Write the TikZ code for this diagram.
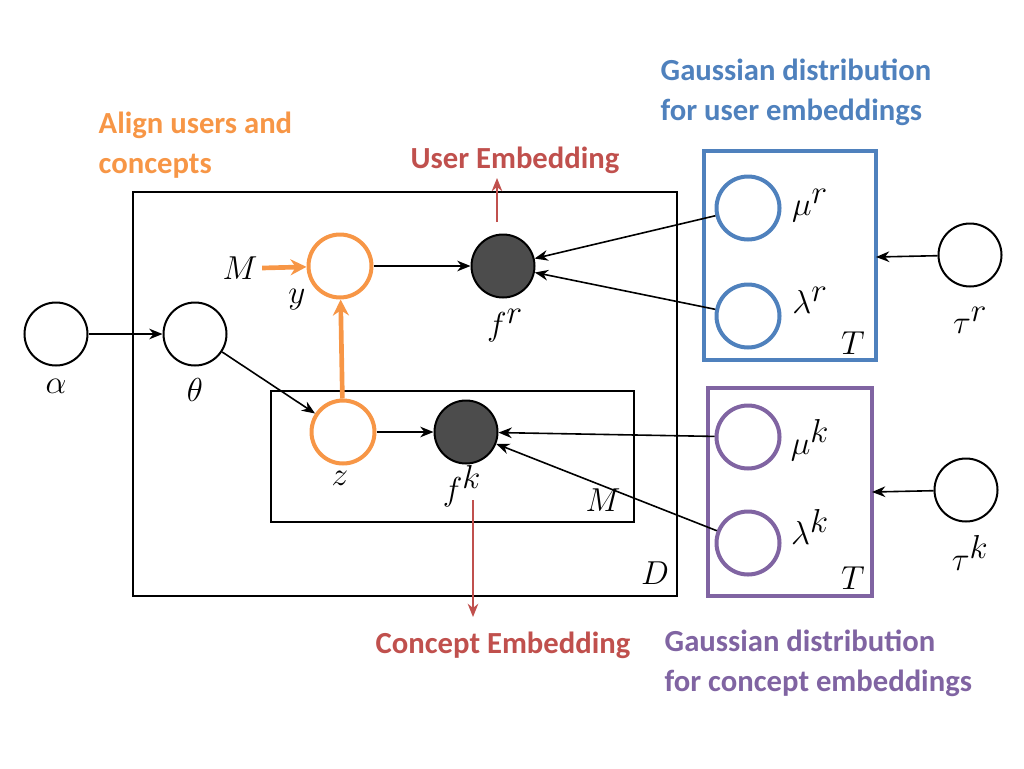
\documentclass[tikz,border=0pt]{standalone}
\usepackage{fontspec}
\setsansfont{Carlito}
\usetikzlibrary{arrows.meta}
\definecolor{orn}{RGB}{247,150,70}
\definecolor{blu}{RGB}{79,129,189}
\definecolor{pur}{RGB}{128,100,162}
\definecolor{rd}{RGB}{192,80,77}
\begin{document}
\begin{tikzpicture}[x=0.75pt,y=-0.75pt,
 var/.style={circle,draw,line width=1.5pt,minimum size=63pt*0.75,inner sep=0},
 obs/.style={var,fill=black!70},
 ar/.style={-{Stealth[length=10pt,width=8pt]},line width=1.2pt},
 math/.style={font=\fontsize{38}{38}\selectfont},
 lbl/.style={font=\sffamily\bfseries\fontsize{23}{30}\selectfont,align=left}]
\useasboundingbox (0,0) rectangle (1024,768);
\draw[line width=1.2pt] (133,192) rectangle (677,596);
\draw[line width=1.2pt] (271,391) rectangle (634,522);
\draw[blu,line width=3pt] (704,151) rectangle (876,360);
\draw[pur,line width=3pt] (708,388) rectangle (872,596);
\node[var] (a) at (56,334) {};
\node[var] (th) at (195,334) {};
\node[var,draw=orn,line width=3pt] (y) at (340,266) {};
\node[var,draw=orn,line width=3pt] (z) at (343,432) {};
\node[obs] (fr) at (503,266) {};
\node[obs] (fk) at (466,432) {};
\node[var,draw=blu,line width=3pt] (mr) at (748,208) {};
\node[var,draw=blu,line width=3pt] (lr) at (748,316) {};
\node[var,draw=pur,line width=3pt] (mk) at (748,437) {};
\node[var,draw=pur,line width=3pt] (lk) at (748,543) {};
\node[var] (tr) at (970,255) {};
\node[var] (tk) at (966,490) {};
\node[math] at (56,386) {$\alpha$};
\node[math] at (195,390) {$\theta$};
\node[math] at (297,300) {$y$};
\node[math] at (340,478) {$z$};
\node[math] at (505,326) {$f^r$};
\node[math] at (462,486) {$f^k$};
\node[math] at (810,206) {$\mu^r$};
\node[math] at (810,300) {$\lambda^r$};
\node[math] at (810,440) {$\mu^k$};
\node[math] at (810,527) {$\lambda^k$};
\node[math] at (970,320) {$\tau^r$};
\node[math] at (970,553) {$\tau^k$};
\node[math] (Mi) at (240,268) {$M$};
\node[math] at (603,500) {$M$};
\node[math] at (655,573) {$D$};
\node[math] at (853,343) {$T$};
\node[math] at (853,578) {$T$};
\draw[ar] (a) -- (th);
\draw[ar] (th) -- (z);
\draw[ar] (y) -- (fr);
\draw[ar] (z) -- (fk);
\draw[ar] (mr) -- (fr);
\draw[ar] (lr) -- (fr);
\draw[ar] (mk) -- (fk);
\draw[ar] (lk) -- (fk);
\draw[ar,orn,line width=3.5pt,-{Stealth[length=12pt,width=12pt]}] (z) -- (y);
\draw[ar,orn,line width=3.5pt,-{Stealth[length=12pt,width=12pt]}] (Mi.east) -- (y);
\coordinate (tre) at (876,257);
\coordinate (tke) at (872,492);
\draw[ar] (tr) -- (tre);
\draw[ar] (tk) -- (tke);
\coordinate (u1) at (497,222); \coordinate (u2) at (497,178);
\coordinate (c1) at (473,500); \coordinate (c2) at (473,617);
\draw[ar,rd] (u1) -- (u2);
\draw[ar,rd] (c1) -- (c2);
\node[lbl,text=rd] at (515,160) {User Embedding};
\node[lbl,text=rd] at (503,645) {Concept Embedding};
\node[lbl,text=blu,anchor=west] at (656,92) {Gaussian distribution\\for user embeddings};
\node[lbl,text=orn,anchor=west] at (94,145) {Align users and\\concepts};
\node[lbl,text=pur,anchor=west] at (660,663) {Gaussian distribution\\for concept embeddings};
\end{tikzpicture}
\end{document}
